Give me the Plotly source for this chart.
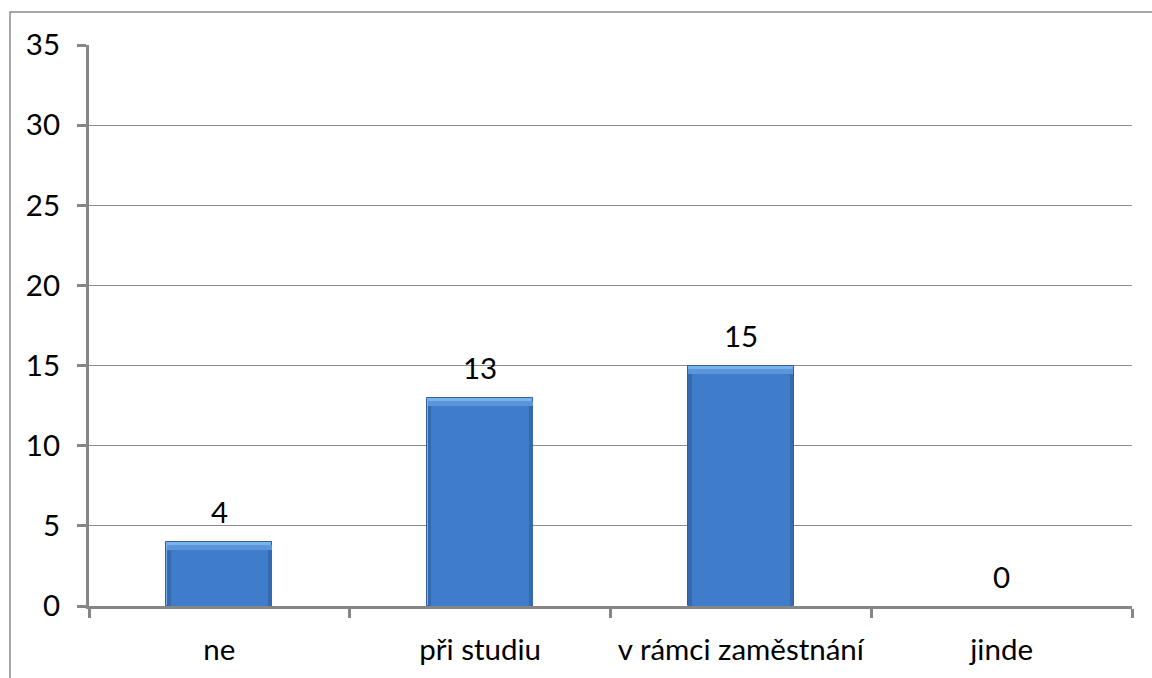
import plotly.graph_objects as go

# Answer categories and counts
categories = ["ne", "při studiu", "v rámci zaměstnání", "jinde"]
counts = [4, 13, 15, 0]

# Axis ticks
y_ticks = [0, 5, 10, 15, 20, 25, 30, 35]

FONT = "Lato"
FSIZE = 29.5
BAR_W = 0.406
SIDE = 0.016          # side bevel width in category units
TOP_BAND = 0.5        # top highlight band, in value units


def below_top(depth):
    """Bar heights lowered by a bevel depth (never below zero)."""
    return [max(v - depth, 0) for v in counts]


fig = go.Figure()

# Outer bar body: the lightest part of the top bevel
fig.add_trace(go.Bar(
    x=categories, y=counts, width=BAR_W,
    marker=dict(color="#7cb2ec",
                line=dict(color="#2f5f9f", width=[1 if v > 0 else 0 for v in counts])),
    hoverinfo="skip", showlegend=False,
))
# Mid tone of the top bevel
fig.add_trace(go.Bar(
    x=categories, y=below_top(TOP_BAND * 0.45), width=BAR_W - 0.003,
    marker=dict(color="#5b95da", line=dict(width=0)),
    hoverinfo="skip", showlegend=False,
))
# Slightly darker sides below the top band
fig.add_trace(go.Bar(
    x=categories, y=below_top(TOP_BAND), width=BAR_W - 0.003,
    marker=dict(color="#3569b0", line=dict(width=0)),
    hoverinfo="skip", showlegend=False,
))
# Main face
fig.add_trace(go.Bar(
    x=categories, y=below_top(TOP_BAND), width=BAR_W - 2 * SIDE,
    marker=dict(color="#3f7cca", line=dict(width=0)),
    hoverinfo="skip", showlegend=False,
))

# Value labels above bars
for c, v in zip(categories, counts):
    fig.add_annotation(x=c, y=v, text=str(v), showarrow=False,
                       yshift=30, font=dict(family=FONT, size=FSIZE, color="#000000"))

# Chart frame
W, H = 1152, 678
L, R, T, B = 89, 20, 45, 72
pw, ph = W - L - R, H - T - B
fig.add_shape(type="rect", xref="paper", yref="paper",
              x0=(10 - L) / pw, x1=(W + 5 - L) / pw,
              y0=-(H + 5 - T - ph) / ph, y1=(ph + T - 12) / ph,
              line=dict(color="#8a8a8a", width=1.5), fillcolor="rgba(0,0,0,0)", layer="below")

fig.update_layout(
    width=W, height=H,
    margin=dict(l=L, r=R, t=T, b=B, pad=0),
    paper_bgcolor="white", plot_bgcolor="white",
    barmode="overlay", bargap=0,
    font=dict(family=FONT, size=FSIZE, color="#000000"),
    showlegend=False,
)
fig.update_xaxes(
    type="category", tickson="boundaries", ticks="outside", ticklen=9, tickwidth=3,
    tickcolor="#868686", showline=True, linecolor="#868686", linewidth=3,
    showgrid=False, ticklabelstandoff=16, zeroline=False,
    tickfont=dict(family=FONT, size=FSIZE),
)
fig.update_yaxes(
    range=[0, 35], tickvals=y_ticks, ticks="outside", ticklen=9, tickwidth=3,
    tickcolor="#868686", showline=True, linecolor="#868686", linewidth=3,
    showgrid=True, gridcolor="#8c8c8c", gridwidth=1, zeroline=False,
    ticklabelstandoff=11, tickfont=dict(family=FONT, size=FSIZE),
)

fig.write_html("out.html")
